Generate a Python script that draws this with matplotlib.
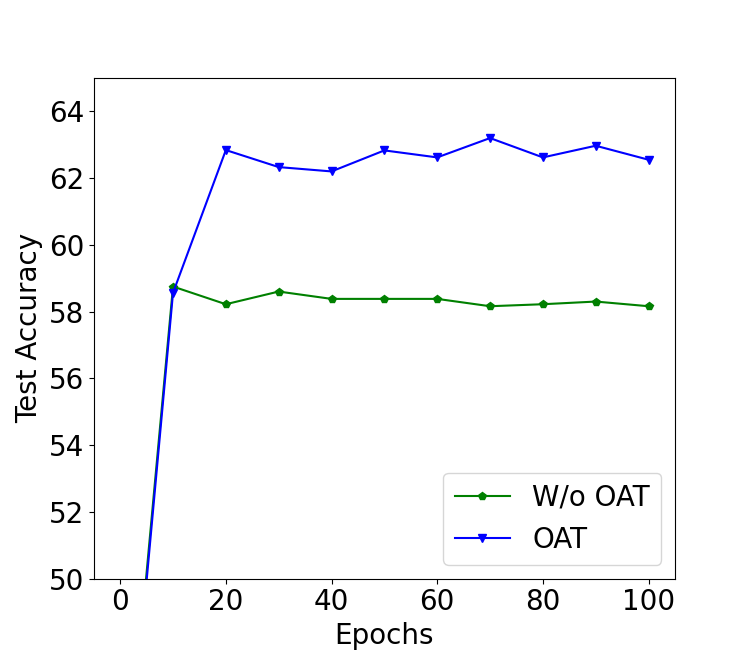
import matplotlib
matplotlib.use("Agg")
import matplotlib.pyplot as plt

epochs = [0, 10, 20, 30, 40, 50, 60, 70, 80, 90, 100]
wo_oat = [41.6, 58.75, 58.22, 58.6, 58.38, 58.38, 58.38, 58.16, 58.22, 58.3, 58.16]
oat = [41.3, 58.56, 62.84, 62.33, 62.2, 62.83, 62.62, 63.2, 62.62, 62.97, 62.55]

fig, ax = plt.subplots(figsize=(7.5, 6.5), dpi=100)
ax.plot(epochs, wo_oat, color="green", marker="p", markersize=6, label="W/o OAT")
ax.plot(epochs, oat, color="blue", marker="v", markersize=6, label="OAT")
ax.set_ylim(50, 65)
ax.set_xlim(-5, 105)
ax.set_xlabel("Epochs", fontsize=20)
ax.set_ylabel("Test Accuracy", fontsize=20)
ax.tick_params(labelsize=20)
ax.legend(fontsize=20, loc="lower right")
fig.savefig("out.png")
